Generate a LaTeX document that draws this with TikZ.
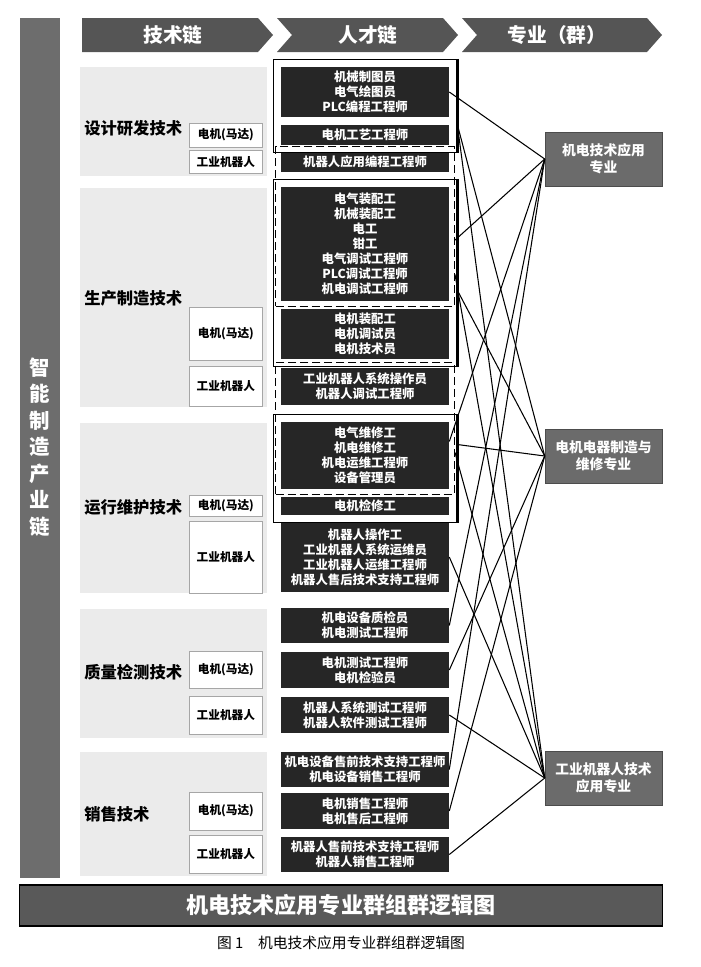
\documentclass[tikz,border=0pt]{standalone}
\usepackage{fontspec}
\newfontfamily\cjk{Noto Sans CJK SC}
\usepackage{tikz}
\usetikzlibrary{positioning, fit}

\definecolor{bargray}{HTML}{6D6D6D}
\definecolor{headgray}{HTML}{555555}
\definecolor{groupbg}{HTML}{EBEBEB}
\definecolor{talentdark}{HTML}{262626}
\definecolor{majorgray}{HTML}{6B6B6B}
\definecolor{titlegray}{HTML}{595959}

\begin{document}
\begin{tikzpicture}[x=0.025cm, y=-0.025cm, node distance=0.45cm]
    % 样式
    \tikzstyle{talent} = [rectangle, fill=talentdark, text=white, align=center, minimum width=4.2cm, inner sep=0pt, font=\cjk\bfseries\fontsize{8.8}{10.6}\selectfont]
    \tikzstyle{sublabel} = [rectangle, draw=gray!70, fill=white, minimum width=1.825cm, inner sep=0pt, font=\cjk\bfseries\fontsize{8.3}{10}\selectfont]
    \tikzstyle{major} = [rectangle, draw=black!70, fill=majorgray, text=white, align=center, minimum width=2.925cm, minimum height=1.35cm, font=\cjk\bfseries\fontsize{9.8}{12}\selectfont]
    \tikzstyle{solidgrp} = [draw, line width=1pt, inner sep=0.18cm]
    \tikzstyle{dashgrp} = [draw, line width=1pt, dash pattern=on 0.2cm off 0.1cm, inner sep=0.125cm]
    \tikzstyle{conn} = [draw, line width=0.75pt]
    \tikzstyle{techlabel} = [anchor=west, inner sep=0pt, font=\cjk\bfseries\fontsize{11.6}{14}\selectfont]
    \tikzstyle{header} = [text=white, font=\cjk\bfseries\fontsize{14}{16}\selectfont]

    \useasboundingbox (0,0) rectangle (700,967);

    % 左侧产业链
    \fill[bargray] (20,18) rectangle (60,878);
    \node[text=white, align=center, font=\cjk\bfseries\fontsize{14.5}{18.9}\selectfont] (chain) at (40,447) {智\\能\\制\\造\\产\\业\\链};

    % 表头
    \fill[headgray] (82,18) -- (258,18) -- (273,35) -- (258,52) -- (82,52) -- cycle;
    \fill[headgray] (277,18) -- (443,18) -- (458,35) -- (443,52) -- (277,52) -- (292,35) -- cycle;
    \fill[headgray] (462,18) -- (647,18) -- (662,35) -- (647,52) -- (462,52) -- (477,35) -- cycle;
    \node[header] (h1) at (173,35) {技术链};
    \node[header] (h2) at (368,35) {人才链};
    \node[header] (h3) at (557,35) {专业（群）};

    % 技术链
    \fill[groupbg] (80,67) rectangle (267,176);
    \fill[groupbg] (80,188) rectangle (267,407);
    \fill[groupbg] (80,423) rectangle (267,593);
    \fill[groupbg] (80,609) rectangle (267,738);
    \fill[groupbg] (80,752) rectangle (267,876);
    \node[techlabel] (g1) at (84,128) {设计研发技术};
    \node[techlabel] (g2) at (84,298) {生产制造技术};
    \node[techlabel] (g3) at (84,507) {运行维护技术};
    \node[techlabel] (g4) at (84,672) {质量检测技术};
    \node[techlabel] (g5) at (84,814) {销售技术};

    % 人才链
    \node[talent, minimum height=1.25cm] (t1) at (365,92) {机械制图员\\电气绘图员\\PLC编程工程师};
    \node[talent, minimum height=0.5cm] (t2) at (365,135) {电机工艺工程师};
    \node[talent, minimum height=0.5cm] (t3) at (365,162) {机器人应用编程工程师};
    \node[talent, minimum height=2.85cm] (t4) at (365,244) {电气装配工\\机械装配工\\电工\\钳工\\电气调试工程师\\PLC调试工程师\\机电调试工程师};
    \node[talent, minimum height=1.25cm] (t5) at (365,334) {电机装配工\\电机调试员\\电机技术员};
    \node[talent, minimum height=0.925cm] (t6) at (365,386.5) {工业机器人系统操作员\\机器人调试工程师};
    \node[talent, minimum height=1.675cm] (t7) at (365,455.5) {电气维修工\\机电维修工\\机电运维工程师\\设备管理员};
    \node[talent, minimum height=0.45cm] (t8) at (365,506) {电机检修工};
    \node[talent, minimum height=1.75cm] (t9) at (365,557) {机器人操作工\\工业机器人系统运维员\\工业机器人运维工程师\\机器人售后技术支持工程师};
    \node[talent, minimum height=0.875cm] (t10) at (365,625.5) {机电设备质检员\\机电测试工程师};
    \node[talent, minimum height=0.9cm] (t11) at (365,670) {电机测试工程师\\电机检验员};
    \node[talent, minimum height=0.9cm] (t12) at (365,715) {机器人系统测试工程师\\机器人软件测试工程师};
    \node[talent, minimum height=0.875cm] (t13) at (365,769.5) {机电设备售前技术支持工程师\\机电设备销售工程师};
    \node[talent, minimum height=0.9cm] (t14) at (365,811) {电机销售工程师\\电机售后工程师};
    \node[talent, minimum height=0.875cm] (t15) at (365,854.5) {机器人售前技术支持工程师\\机器人销售工程师};

    % 细分方向
    \node[sublabel, minimum height=0.6cm, left=of t2] (s1m) {电机(马达)};
    \node[sublabel, minimum height=0.575cm, left=of t3] (s1r) {工业机器人};
    \node[sublabel, minimum height=1.325cm, left=of t5] (s2m) {电机(马达)};
    \node[sublabel, minimum height=1cm, left=of t6] (s2r) {工业机器人};
    \node[sublabel, minimum height=0.525cm, left=of t8] (s3m) {电机(马达)};
    \node[sublabel, minimum height=1.8cm, left=of t9] (s3r) {工业机器人};
    \node[sublabel, minimum height=0.925cm, left=of t11] (s4m) {电机(马达)};
    \node[sublabel, minimum height=0.95cm, left=of t12] (s4r) {工业机器人};
    \node[sublabel, minimum height=0.95cm, left=of t14] (s5m) {电机(马达)};
    \node[sublabel, minimum height=0.95cm, left=of t15] (s5r) {工业机器人};

    % 分组框
    \node[solidgrp, fit=(t1)(t2)] (f1) {};
    \node[solidgrp, fit=(t4)(t5)] (f2) {};
    \node[solidgrp, fit=(t7)(t8)] (f3) {};
    \node[dashgrp, fit=(t3)(t4)] (d1) {};
    \node[dashgrp, fit=(t6)(t7)] (d2) {};
    \draw[line width=2pt] (f1.north east) -- (f1.south east);
    \draw[line width=2pt] (f2.north east) -- (f2.south east);
    \draw[line width=2pt] (f3.north east) -- (f3.south east);

    % 专业（群）
    \node[major] (m1) at (603.5,159) {机电技术应用\\专业};
    \node[major] (m2) at (603.5,456) {电机电器制造与\\维修专业};
    \node[major] (m3) at (603.5,778) {工业机器人技术\\应用专业};

    % 连线
    \path[conn] (t1.east) -- (m1.west);
    \path[conn] ([yshift=-0.34cm]d1.east) -- (m1.west);
    \path[conn] ([yshift=0.35cm]t7.east) -- (m1.west);
    \path[conn] (t10.east) -- (m1.west);
    \path[conn] (t13.east) -- (m1.west);

    \path[conn] ([yshift=-0.45cm]f1.east) -- (m2.west);
    \path[conn] ([yshift=-0.425cm]f2.east) -- (m2.west);
    \path[conn] ([yshift=0.6cm]f3.east) -- (m2.west);
    \path[conn] (t11.east) -- (m2.west);
    \path[conn] (t14.east) -- (m2.west);

    \path[conn] ([yshift=-0.45cm]f1.east) -- (m3.west);
    \path[conn] ([yshift=-1.2cm]d1.east) -- (m3.west);
    \path[conn] ([yshift=-0.6cm]d2.east) -- (m3.west);
    \path[conn] (t9.east) -- (m3.west);
    \path[conn] (t12.east) -- (m3.west);
    \path[conn] (t15.east) -- (m3.west);

    % 标题
    \node[draw=black, line width=0.8pt, fill=titlegray, text=white, minimum width=16.05cm, minimum height=1.025cm, font=\cjk\bfseries\fontsize{15.7}{18}\selectfont] (title) at (341,905.5) {机电技术应用专业群组群逻辑图};
    \node[font=\cjk\fontsize{10.5}{12}\selectfont] (caption) at (341,943) {图 1\quad 机电技术应用专业群组群逻辑图};
\end{tikzpicture}
\end{document}
